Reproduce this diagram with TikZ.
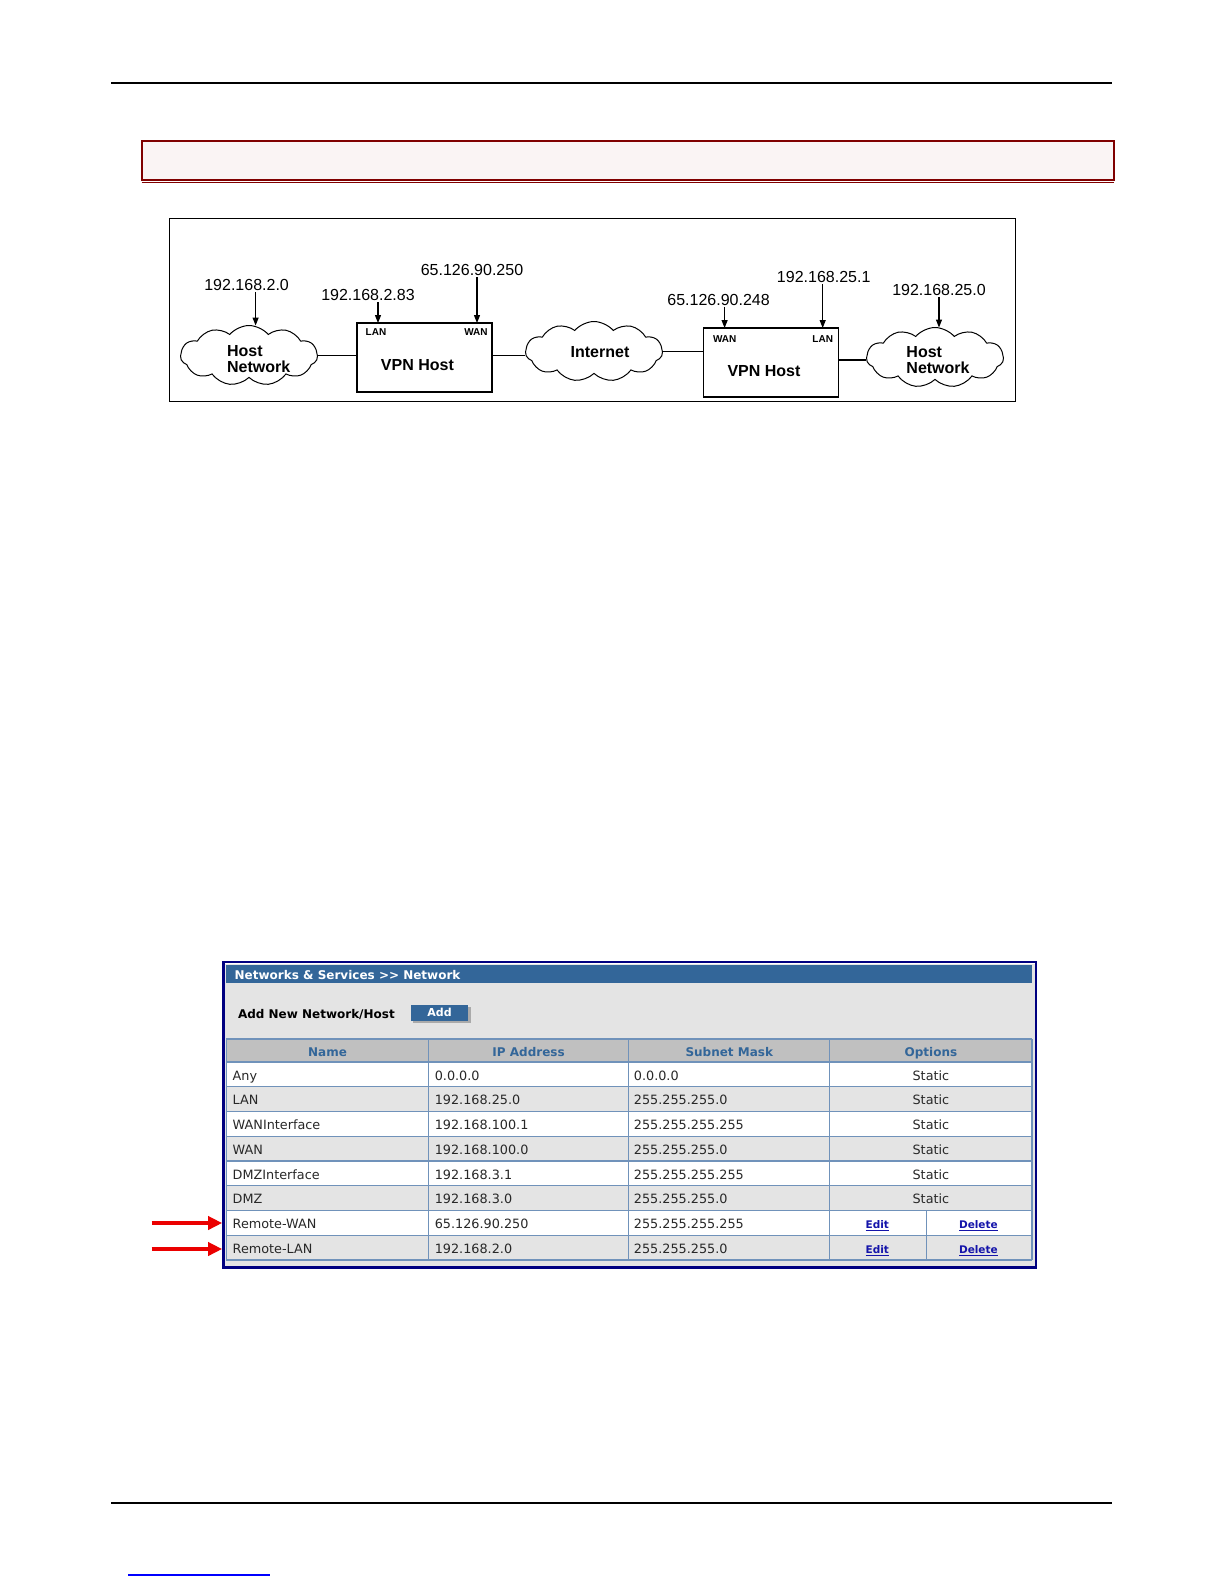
\documentclass[tikz,border=0pt]{standalone}
\usepackage{fontspec}
\setmainfont{Liberation Sans}
\newfontfamily\verd{DejaVu Sans}
\usetikzlibrary{shapes.symbols,arrows.meta,calc}
\definecolor{darkred}{RGB}{128,0,0}
\definecolor{boxpink}{RGB}{250,244,244}
\definecolor{navyframe}{RGB}{0,0,128}
\definecolor{barblue}{RGB}{51,102,153}
\definecolor{panelgray}{RGB}{228,228,228}
\definecolor{headgray}{RGB}{192,192,192}
\definecolor{gridblue}{RGB}{112,146,186}
\definecolor{celltext}{RGB}{40,40,40}
\definecolor{linkblue}{RGB}{20,20,170}
\definecolor{arrowred}{RGB}{235,0,0}
\definecolor{shadowgray}{RGB}{170,170,170}
\tikzset{
  ip/.style={font=\fontsize{16}{19}\selectfont, inner sep=1pt},
  port/.style={font=\bfseries\fontsize{10}{12}\selectfont, inner sep=0pt},
  boxtext/.style={font=\bfseries\fontsize{16}{16.2}\selectfont, inner sep=0pt, align=left},
  vpnbox/.style={draw, line width=1.2pt, minimum width=135pt, minimum height=69pt, inner sep=0pt, outer sep=0pt},
  netcloud/.style={cloud, draw, line width=1pt, cloud puffs=11, cloud puff arc=100, cloud ignores aspect, minimum width=137pt, minimum height=60pt, inner sep=0pt, outer sep=0pt},
  iparrow/.style={line width=1.2pt, -{Triangle[length=8pt,width=6pt]}},
  link/.style={line width=1.2pt},
  rule/.style={line width=1.2pt},
  cell/.style={font=\verd\fontsize{12.8}{15}\selectfont, text=celltext, anchor=west, inner sep=0pt, text height=9.5pt, text depth=2.5pt},
  ccell/.style={cell, anchor=center},
  headcell/.style={font=\verd\bfseries\fontsize{12}{14}\selectfont, text=barblue, inner sep=0pt, text height=9pt, text depth=2.5pt},
  linkcell/.style={font=\verd\bfseries\fontsize{10.5}{12}\selectfont, text=linkblue, inner sep=0pt, text height=8pt, text depth=2.5pt},
  gridline/.style={draw=gridblue, line width=1.3pt},
  redarrow/.style={draw=arrowred, line width=4pt, -{Triangle[length=14pt,width=13pt]}},
}
\begin{document}
\begin{tikzpicture}[x=1pt,y=-1pt]
\useasboundingbox (0,0) rectangle (1225,1585);
\fill[white] (0,0) rectangle (1225,1585);

% page rules
\coordinate (hl) at (111,83);
\coordinate (hr) at (1112,83);
\draw[rule] (hl) -- (hr);
\coordinate (fl) at (111,1503);
\coordinate (fr) at (1112,1503);
\draw[rule] (fl) -- (fr);
\coordinate (bl) at (128,1575);
\coordinate (br) at (270,1575);
\draw[blue, line width=1.5pt] (bl) -- (br);

% title box
\node[draw=darkred, fill=boxpink, line width=2pt, minimum width=972.5pt, minimum height=38.7pt, inner sep=0pt, outer sep=0pt] (titlebox) at (627.75,160.35) {};
\draw[darkred, line width=1.3pt] ([yshift=-2.7pt]titlebox.south west) -- ([yshift=-2.7pt]titlebox.south east);

% diagram frame
\node[draw, line width=1pt, minimum width=846pt, minimum height=183pt, inner sep=0pt, outer sep=0pt] (frame) at (592,309.5) {};

% clouds
\node[netcloud] (hn1) at (249,355.5) {};
\node[boxtext] (hn1t) at (258.7,359) {Host\\Network};
\node[netcloud] (inet) at (594,351.5) {};
\node[boxtext] (inett) at (600,352) {Internet};
\node[netcloud] (hn2) at (935,357.5) {};
\node[boxtext] (hn2t) at (938,360) {Host\\Network};

% VPN boxes
\node[vpnbox] (v1) at (424.5,357.5) {};
\node[port] (v1lan) at (376,332.5) {LAN};
\node[port] (v1wan) at (476,332.5) {WAN};
\node[boxtext] (v1t) at (417.4,365) {VPN Host};
\node[vpnbox] (v2) at (771,362.5) {};
\node[port] (v2wan) at (724.7,338.6) {WAN};
\node[port] (v2lan) at (822.7,338.6) {LAN};
\node[boxtext] (v2t) at (764,371) {VPN Host};

% links
\draw[link] (hn1.east) -- (v1.west |- hn1.east);
\draw[link] (v1.east |- hn1.east) -- (inet.west |- hn1.east);
\draw[link] (inet.east) -- (v2.west |- inet.east);
\draw[link] ([yshift=2.5pt]v2.east) -- ([yshift=2.5pt]v2.east -| hn2.west);

% address labels
\node[ip] (a1) at (246.6,285) {192.168.2.0};
\node[ip] (a2) at (368,295) {192.168.2.83};
\node[ip] (a3) at (472,270) {65.126.90.250};
\node[ip] (a4) at (718.6,300) {65.126.90.248};
\node[ip] (a5) at (823.7,277) {192.168.25.1};
\node[ip] (a6) at (939,290) {192.168.25.0};
\draw[iparrow] ([xshift=9pt]a1.south) -- ([xshift=9pt]a1.south |- hn1.north);
\draw[iparrow] ([xshift=10pt]a2.south) -- ([xshift=10pt]a2.south |- v1.north);
\draw[iparrow] ([xshift=5pt]a3.south) -- ([xshift=5pt]a3.south |- v1.north);
\draw[iparrow] ([xshift=6pt]a4.south) -- ([xshift=6pt]a4.south |- v2.north);
\draw[iparrow] ([xshift=-1pt]a5.south) -- ([xshift=-1pt]a5.south |- v2.north);
\draw[iparrow] (a6.south) -- (a6.south |- hn2.north);

% ---------- table screenshot ----------
\fill[panelgray] (225,963.5) rectangle (1034.5,1266);
\fill[barblue] (226.4,965) rectangle (1032,982.5);
\node[font=\verd\bfseries\fontsize{12}{14}\selectfont, text=white, anchor=west, inner sep=0pt] (ttl) at (234.5,975) {Networks \& Services >> Network};
\node[font=\verd\bfseries\fontsize{12}{14}\selectfont, text=black, inner sep=0pt] (addlbl) at (316.4,1014.5) {Add New Network/Host};
\fill[shadowgray] (413,1006.6) rectangle (470.5,1023);
\node[fill=barblue, text=white, font=\verd\bfseries\fontsize{11}{13}\selectfont, minimum width=57pt, minimum height=16.5pt, inner sep=0pt] (add) at (439.5,1012.8) {Add};

% header row
\fill[headgray] (226.4,1039) rectangle (1032,1062);
\node[headcell] (hName) at (327.5,1053.5) {Name};
\node[headcell] (hIP) at (528.6,1053.5) {IP Address};
\node[headcell] (hSub) at (729.3,1053.5) {Subnet Mask};
\node[headcell] (hOpt) at (930.9,1053.5) {Options};

% rows
\foreach \nm/\ipa/\sm/\fc [count=\i from 0] in {Any/0.0.0.0/0.0.0.0/white, LAN/192.168.25.0/255.255.255.0/panelgray, WANInterface/192.168.100.1/255.255.255.255/white, WAN/192.168.100.0/255.255.255.0/panelgray, DMZInterface/192.168.3.1/255.255.255.255/white, DMZ/192.168.3.0/255.255.255.0/panelgray, Remote-WAN/65.126.90.250/255.255.255.255/white, Remote-LAN/192.168.2.0/255.255.255.0/panelgray}{
  \fill[\fc] (226.4,{1062+\i*24.76}) rectangle (1032,{1062+(\i+1)*24.76});
  \node[cell] (nm\i) at (232.5,{1064.2+(\i+0.5)*24.76}) {\nm};
  \node[cell] (ip\i) at (434.6,{1064.2+(\i+0.5)*24.76}) {\ipa};
  \node[cell] (sm\i) at (633.7,{1064.2+(\i+0.5)*24.76}) {\sm};
}
\foreach \i in {0,...,5}{
  \node[ccell] (op\i) at (930.9,{1064.2+(\i+0.5)*24.76}) {Static};
}
\foreach \i in {6,7}{
  \node[linkcell] (ed\i) at (877.3,{1065+(\i+0.5)*24.76}) {\underline{Edit}};
  \node[linkcell] (de\i) at (978.4,{1065+(\i+0.5)*24.76}) {\underline{Delete}};
}
% grid
\draw[gridline] (226.4,1039) -- (1032,1039);
\foreach \k in {0,...,8}{
  \draw[gridline] (226.4,{1062+\k*24.76}) -- (1032,{1062+\k*24.76});
}
\foreach \xx in {226.4,428.5,628.7,829.8,1032}{
  \draw[gridline] (\xx,1039) -- (\xx,{1062+8*24.76});
}
\draw[gridline] (926.8,{1062+6*24.76}) -- (926.8,{1062+8*24.76});

% frame
\node[draw=navyframe, line width=2.5pt, minimum width=812.6pt, minimum height=305.4pt, inner sep=0pt, outer sep=0pt] (tbl) at (629.7,1114.7) {};

% red arrows
\coordinate (ra6) at (151.6,1223);
\coordinate (ra7) at (151.6,1249);
\draw[redarrow] (ra6) -- ([xshift=-1.2pt]tbl.west |- ra6);
\draw[redarrow] (ra7) -- ([xshift=-1.2pt]tbl.west |- ra7);
\end{tikzpicture}
\end{document}
